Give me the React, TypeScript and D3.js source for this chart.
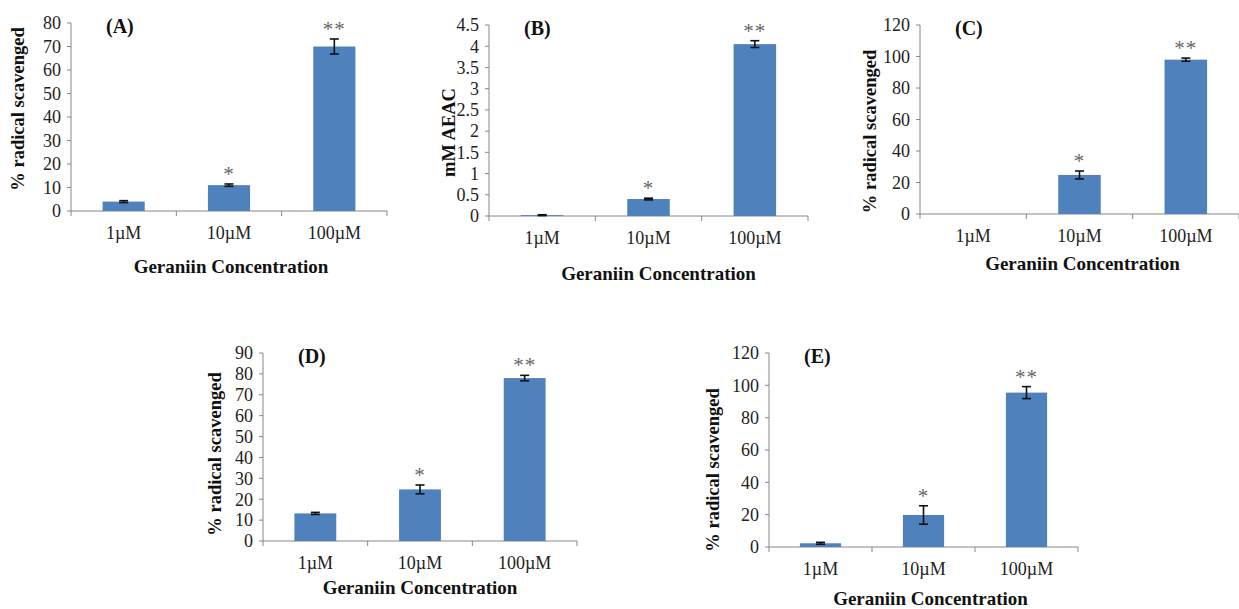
import React from "react";
import * as d3 from "d3";

const categories = ["1µM", "10µM", "100µM"];
const xTitle = "Geraniin Concentration";

const valuesA = [4, 11, 70];
const errorsA = [0.4, 0.5, 3.2];
const valuesB = [0.02, 0.4, 4.05];
const errorsB = [0.01, 0.02, 0.08];
const valuesC = [0, 24.8, 98];
const errorsC = [0, 2.5, 1];
const valuesD = [13.2, 24.7, 78];
const errorsD = [0.5, 2.1, 1.3];
const valuesE = [2.3, 19.8, 95.5];
const errorsE = [0.6, 5.7, 3.7];
const marks = ["", "*", "**"];

const ticksA = d3.range(0, 81, 10);
const ticksB = d3.range(0, 4.51, 0.5);
const ticksC = d3.range(0, 121, 20);
const ticksD = d3.range(0, 91, 10);
const ticksE = d3.range(0, 121, 20);

const panels = [
  { name: "(A)", yLabel: "% radical scavenged", values: valuesA, errors: errorsA, ticks: ticksA,
    left: 71, right: 387, top: 23, bottom: 211, yLabX: -53, yLabDy: -8, titleY: 62, titleDx: 2 },
  { name: "(B)", yLabel: "mM AEAC", values: valuesB, errors: errorsB, ticks: ticksB,
    left: 489, right: 808, top: 25, bottom: 216, yLabX: -40, yLabDy: 12, titleY: 64, titleDx: 10 },
  { name: "(C)", yLabel: "% radical scavenged", values: valuesC, errors: errorsC, ticks: ticksC,
    left: 920, right: 1239, top: 25, bottom: 214, yLabX: -50, yLabDy: 12, titleY: 56, titleDx: 3 },
  { name: "(D)", yLabel: "% radical scavenged", values: valuesD, errors: errorsD, ticks: ticksD,
    left: 263, right: 577, top: 353, bottom: 541, yLabX: -48, yLabDy: 7, titleY: 53, titleDx: 0 },
  { name: "(E)", yLabel: "% radical scavenged", values: valuesE, errors: errorsE, ticks: ticksE,
    left: 769, right: 1078, top: 353, bottom: 547, yLabX: -56, yLabDy: 20, titleY: 58, titleDx: 7 },
];

const FONT = "'Liberation Serif', 'Times New Roman', serif";
const AXIS = "#868686";
const BAR = "#4F81BD";

function Panel({ p }: { p: (typeof panels)[number] }) {
  const x = d3.scaleBand<string>().domain(categories).range([p.left, p.right]).padding(0);
  const y = d3
    .scaleLinear()
    .domain([0, p.ticks[p.ticks.length - 1]])
    .range([p.bottom, p.top]);
  const bw = x.bandwidth() * 0.4;
  const bounds = categories.map((c) => x(c)!).concat([p.right]);
  const fmt = (v: number) => (Number.isInteger(v) ? String(v) : d3.format(".1f")(v));

  return (
    <g>
      {/* y axis */}
      <line x1={p.left} x2={p.left} y1={p.top} y2={p.bottom} stroke={AXIS} />
      {p.ticks.map((t) => (
        <g key={t}>
          <line x1={p.left - 4} x2={p.left} y1={y(t)} y2={y(t)} stroke={AXIS} />
          <text x={p.left - 10} y={y(t)} dy="0.35em" textAnchor="end" fontSize={18} fill="#222">
            {fmt(t)}
          </text>
        </g>
      ))}
      {/* x axis */}
      <line x1={p.left} x2={p.right} y1={p.bottom} y2={p.bottom} stroke={AXIS} />
      {bounds.map((b, i) => (
        <line key={i} x1={b} x2={b} y1={p.bottom} y2={p.bottom + 5} stroke={AXIS} />
      ))}
      {categories.map((c) => (
        <text key={c} x={x(c)! + x.bandwidth() / 2} y={p.bottom + 28} textAnchor="middle" fontSize={18} fill="#222">
          {c}
        </text>
      ))}
      {/* bars */}
      {categories.map((c, i) => {
        const cx = x(c)! + x.bandwidth() / 2;
        const v = p.values[i];
        const e = p.errors[i];
        return (
          <g key={c}>
            {v > 0 && (
              <rect x={cx - bw / 2} y={y(v)} width={bw} height={y(0) - y(v)} fill={BAR} />
            )}
            {v > 0 && (
              <g stroke="#111" strokeWidth={1.6}>
                <line x1={cx} x2={cx} y1={y(v + e)} y2={y(v - e)} />
                <line x1={cx - 4.5} x2={cx + 4.5} y1={y(v + e)} y2={y(v + e)} />
                <line x1={cx - 4.5} x2={cx + 4.5} y1={y(v - e)} y2={y(v - e)} />
              </g>
            )}
            {marks[i] && (
              <text x={cx} y={y(v + e) - 3} textAnchor="middle" fontSize={21} fill="#666" letterSpacing={1}>
                {marks[i]}
              </text>
            )}
          </g>
        );
      })}
      {/* labels */}
      <text x={p.left + 35} y={p.top + 10} fontSize={20} fontWeight="bold" fill="#111">
        {p.name}
      </text>
      <text
        transform={`translate(${p.left + p.yLabX},${(p.top + p.bottom) / 2 + p.yLabDy}) rotate(-90)`}
        textAnchor="middle"
        dy="0.35em"
        fontSize={18.5}
        fontWeight="bold"
        fill="#111"
      >
        {p.yLabel}
      </text>
      <text
        x={(p.left + p.right) / 2 + p.titleDx}
        y={p.bottom + p.titleY}
        textAnchor="middle"
        fontSize={19}
        fontWeight="bold"
        fill="#111"
      >
        {xTitle}
      </text>
    </g>
  );
}

export default function App() {
  return (
    <svg
      width={1239}
      height={609}
      style={{ position: "absolute", left: 0, top: 0, background: "#fff" }}
      fontFamily={FONT}
    >
      {panels.map((p) => (
        <Panel key={p.name} p={p} />
      ))}
    </svg>
  );
}
